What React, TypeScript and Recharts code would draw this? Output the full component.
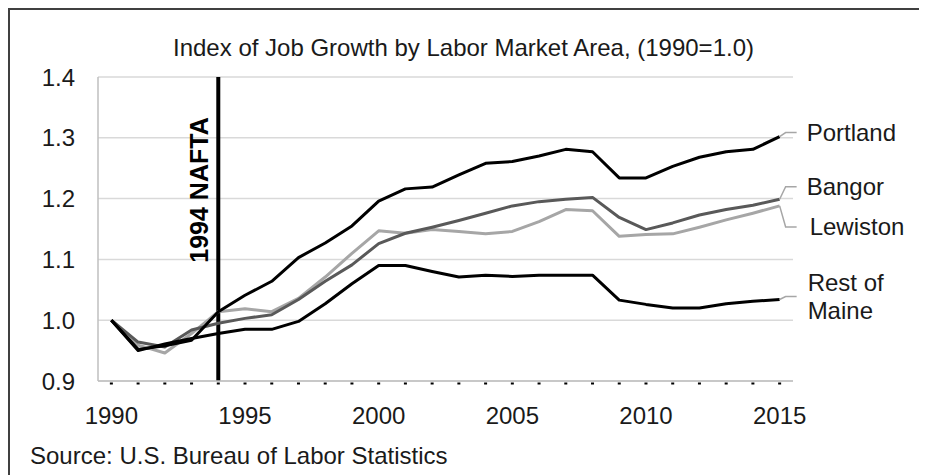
import React from "react";
import { LineChart, Line, XAxis, YAxis, CartesianGrid, ReferenceLine, LabelList } from "recharts";

const years = [1990, 1991, 1992, 1993, 1994, 1995, 1996, 1997, 1998, 1999, 2000, 2001, 2002, 2003, 2004, 2005, 2006, 2007, 2008, 2009, 2010, 2011, 2012, 2013, 2014, 2015];
const portland = [1.0, 0.952, 0.958, 0.967, 1.014, 1.041, 1.064, 1.103, 1.127, 1.155, 1.196, 1.216, 1.219, 1.239, 1.258, 1.261, 1.27, 1.281, 1.277, 1.234, 1.234, 1.253, 1.268, 1.277, 1.281, 1.302];
const bangor = [1.0, 0.964, 0.956, 0.984, 0.995, 1.003, 1.009, 1.034, 1.064, 1.091, 1.126, 1.143, 1.153, 1.164, 1.176, 1.188, 1.195, 1.199, 1.202, 1.169, 1.149, 1.16, 1.173, 1.182, 1.189, 1.199];
const lewiston = [1.0, 0.959, 0.946, 0.978, 1.014, 1.019, 1.014, 1.036, 1.071, 1.11, 1.147, 1.143, 1.149, 1.146, 1.142, 1.146, 1.162, 1.182, 1.18, 1.138, 1.141, 1.142, 1.153, 1.165, 1.176, 1.188];
const restOfMaine = [1.0, 0.95, 0.961, 0.97, 0.978, 0.985, 0.985, 0.998, 1.027, 1.06, 1.09, 1.09, 1.08, 1.071, 1.074, 1.072, 1.074, 1.074, 1.074, 1.033, 1.026, 1.02, 1.02, 1.027, 1.031, 1.034];

const yTicks = [0.9, 1.0, 1.1, 1.2, 1.3, 1.4];
const xLabelYears = [1990, 1995, 2000, 2005, 2010, 2015];
const titleText = "Index of Job Growth by Labor Market Area, (1990=1.0)";
const sourceText = "Source: U.S. Bureau of Labor Statistics";
const eventYear = 1994;
const eventLabel = "1994 NAFTA";

const data = years.map((year, i) => ({
  year,
  portland: portland[i],
  bangor: bangor[i],
  lewiston: lewiston[i],
  rest: restOfMaine[i],
}));

const FONT = "'Liberation Sans', Arial, sans-serif";
const TEXT = "#1a1a1a";
const FS = 24;

const series = [
  { key: "lewiston", lines: ["Lewiston"], color: "#a6a6a6", dy: 21, tdx: 30 },
  { key: "bangor", lines: ["Bangor"], color: "#595959", dy: -12.5, tdx: 27 },
  { key: "rest", lines: ["Rest of", "Maine"], color: "#000000", dy: -3, tdx: 28 },
  { key: "portland", lines: ["Portland"], color: "#000000", dy: -4, tdx: 27 },
];

const makeEndLabel = (lines: string[], dy: number, tdx: number) => (p: any) => {
  if (p.index !== years.length - 1) return null;
  const x = Number(p.x);
  const y = Number(p.y);
  const ly = y + dy;
  return (
    <g>
      <polyline
        points={`${x},${y} ${x + 6},${ly} ${x + 17},${ly}`}
        fill="none"
        stroke="#a6a6a6"
        strokeWidth={1.5}
      />
      {lines.map((l, i) => (
        <text
          key={l}
          x={x + tdx}
          y={ly + (i - (lines.length - 1) / 2) * 28.7}
          dy="0.35em"
          fontFamily={FONT}
          fontSize={FS}
          fill={TEXT}
        >
          {l}
        </text>
      ))}
    </g>
  );
};

const XTick = (props: any) => {
  const { x, y, payload } = props;
  const yr = Number(payload.value);
  return (
    <g>
      <rect x={x - 1.5} y={y + 1.5} width={3} height={2} fill="#000" />
      {xLabelYears.includes(yr) && (
        <text x={x} y={y + 35} dy="0.35em" textAnchor="middle" fontFamily={FONT} fontSize={FS} fill={TEXT}>
          {yr}
        </text>
      )}
    </g>
  );
};

const EventLabel = (props: any) => {
  const vb = props.viewBox || {};
  const cx = Number(vb.x) - 19.5;
  const cy = Number(vb.y) + 113;
  return (
    <text
      x={cx}
      y={cy}
      dy="0.35em"
      textAnchor="middle"
      transform={`rotate(-90, ${cx}, ${cy})`}
      fontFamily={FONT}
      fontSize={25}
      fontWeight="bold"
      fill="#000"
    >
      {eventLabel}
    </text>
  );
};

export default function App() {
  return (
    <div style={{ position: "relative", width: 919, height: 467 }}>
      <style>{"html,body{overflow:hidden}"}</style>
      <div
        style={{
          position: "absolute",
          left: 0,
          top: 0,
          width: 919,
          height: 470,
          boxSizing: "border-box",
          borderTop: "2px solid #404040",
          borderLeft: "2px solid #404040",
          borderRight: "2px solid #404040",
        }}
      />
      <div
        style={{
          position: "absolute",
          left: 0,
          top: 26,
          width: 911,
          textAlign: "center",
          fontFamily: FONT,
          fontSize: FS,
          lineHeight: "28px",
          color: TEXT,
          whiteSpace: "nowrap",
        }}
      >
        {titleText}
      </div>
      <div
        style={{
          position: "absolute",
          left: 22,
          top: 434,
          fontFamily: FONT,
          fontSize: FS,
          lineHeight: "28px",
          color: TEXT,
          whiteSpace: "nowrap",
        }}
      >
        {sourceText}
      </div>
      <div style={{ position: "absolute", left: 0, top: 0 }}>
        <LineChart
          width={919}
          height={467}
          data={data}
          margin={{ top: 69, right: 134, bottom: 0, left: 0 }}
        >
          <CartesianGrid vertical={false} stroke="#d9d9d9" strokeWidth={1.5} />
          <XAxis
            dataKey="year"
            type="category"
            scale="band"
            interval={0}
            height={94}
            tickLine={false}
            tickSize={0}
            tickMargin={0}
            axisLine={{ stroke: "#bfbfbf", strokeWidth: 1.5 }}
            tick={<XTick />}
          />
          <YAxis
            type="number"
            domain={[0.9, 1.4]}
            ticks={yTicks}
            width={90}
            tickLine={false}
            tickSize={0}
            tickMargin={23}
            axisLine={{ stroke: "#bfbfbf", strokeWidth: 1.5 }}
            tickFormatter={(v: number) => v.toFixed(1)}
            tick={{ fontFamily: FONT, fontSize: FS, fill: TEXT }}
            allowDataOverflow
          />
          <ReferenceLine x={eventYear} stroke="#000" strokeWidth={4} label={<EventLabel />} />
          {series.map((s) => (
            <Line
              key={s.key}
              dataKey={s.key}
              stroke={s.color}
              strokeWidth={3}
              dot={false}
              activeDot={false}
              strokeLinejoin="round"
              isAnimationActive={false}
            >
              <LabelList dataKey={s.key} content={makeEndLabel(s.lines, s.dy, s.tdx)} />
            </Line>
          ))}
        </LineChart>
      </div>
    </div>
  );
}
